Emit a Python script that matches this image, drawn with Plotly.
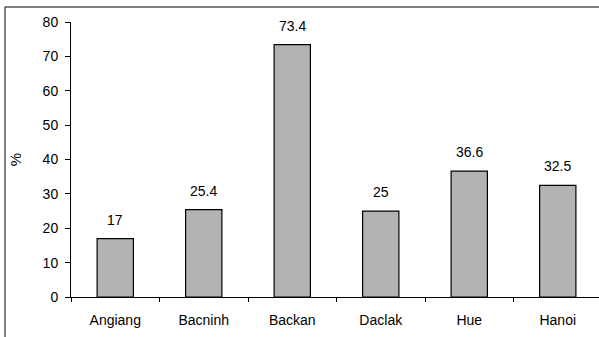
import plotly.graph_objects as go

provinces = ["Angiang", "Bacninh", "Backan", "Daclak", "Hue", "Hanoi"]
percent = [17, 25.4, 73.4, 25, 36.6, 32.5]
y_ticks = [0, 10, 20, 30, 40, 50, 60, 70, 80]

FONT = "Liberation Sans, Arial, sans-serif"

fig = go.Figure()
fig.add_trace(go.Bar(
    x=provinces,
    y=percent,
    width=0.41,
    marker=dict(color="#b3b3b3", line=dict(color="#000000", width=1.2)),
    showlegend=False,
))

# value labels above each bar
for name, v in zip(provinces, percent):
    fig.add_annotation(x=name, y=v, text=f"{v:g}", showarrow=False,
                       yanchor="bottom", yshift=9,
                       font=dict(family=FONT, size=14, color="#000000"))

# frame around the chart
fig.add_shape(type="line", xref="paper", yref="paper", x0=-0.125, x1=1.01,
              y0=1.055, y1=1.055, line=dict(color="#808080", width=2))
fig.add_shape(type="line", xref="paper", yref="paper", x0=-0.125, x1=-0.125,
              y0=-0.2, y1=1.055, line=dict(color="#000000", width=1))

fig.update_layout(
    width=599, height=337,
    margin=dict(l=71, r=0, t=22, b=40),
    paper_bgcolor="white", plot_bgcolor="white",
    font=dict(family=FONT, size=14, color="#000000"),
    xaxis=dict(
        range=[-0.5, 5.466],
        showline=True, linecolor="#000000", linewidth=1,
        ticks="outside", tickson="boundaries", ticklen=4, tickcolor="#000000",
        ticklabelstandoff=10,
        tickfont=dict(family=FONT, size=14),
        showgrid=False, zeroline=False, fixedrange=True,
    ),
    yaxis=dict(
        range=[0, 80], tickvals=y_ticks,
        showline=True, linecolor="#000000", linewidth=1,
        ticks="outside", ticklen=5, tickcolor="#000000",
        ticklabelstandoff=4,
        tickfont=dict(family=FONT, size=14),
        showgrid=False, zeroline=False,
        title=dict(text="%", standoff=17, font=dict(family=FONT, size=15)),
    ),
)

fig.write_html("out.html")
